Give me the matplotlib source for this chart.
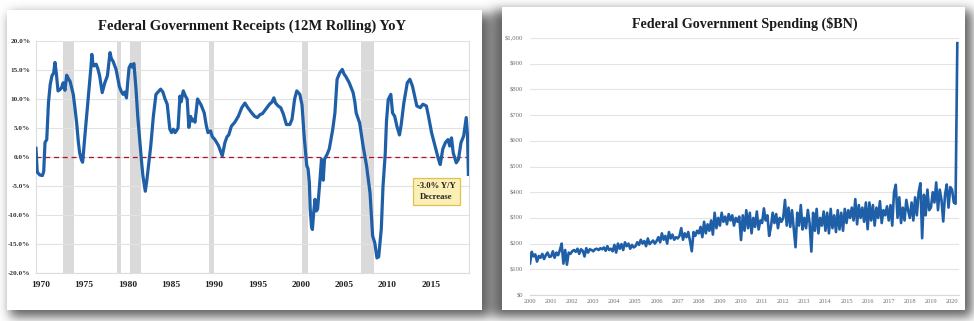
import numpy as np
import matplotlib
matplotlib.use("Agg")
import matplotlib.pyplot as plt

# ---------------- data ----------------
# Federal receipts, 12-month rolling, year-over-year change (%)
receipt_years = [
    1969.46, 1969.6, 1969.9, 1970.2, 1970.35, 1970.5, 1970.7, 1970.9, 1971.1, 1971.3,
    1971.5, 1971.65, 1971.8, 1972.0, 1972.2, 1972.4, 1972.6, 1972.8, 1973.0, 1973.2,
    1973.4, 1973.6, 1973.76, 1973.95, 1974.15, 1974.35, 1974.5, 1974.7, 1974.84, 1975.0,
    1975.15, 1975.3, 1975.6, 1975.8, 1975.9, 1976.05, 1976.15, 1976.4, 1976.6, 1976.8,
    1977.0, 1977.1, 1977.4, 1977.7, 1977.85, 1978.0, 1978.15, 1978.35, 1978.7, 1979.07,
    1979.3, 1979.5, 1979.7, 1979.9, 1980.05, 1980.2, 1980.4, 1980.55, 1980.76, 1981.0,
    1981.2, 1981.45, 1981.65, 1981.8, 1982.07, 1982.25, 1982.4, 1982.7, 1983.0, 1983.3,
    1983.6, 1983.84, 1984.1, 1984.35, 1984.6, 1984.75, 1984.9, 1985.1, 1985.3, 1985.5,
    1985.7, 1985.85, 1986.07, 1986.2, 1986.45, 1986.7, 1986.9, 1987.1, 1987.3, 1987.5,
    1987.7, 1987.8, 1988.1, 1988.3, 1988.5, 1988.87, 1989.1, 1989.3, 1989.6, 1989.8,
    1990.1, 1990.5, 1990.95, 1991.26, 1991.5, 1991.7, 1992.0, 1992.4, 1992.8, 1993.2,
    1993.56, 1993.9, 1994.35, 1994.7, 1995.0, 1995.3, 1995.6, 1995.95, 1996.4, 1996.7,
    1996.9, 1997.1, 1997.4, 1997.7, 1998.0, 1998.35, 1998.75, 1999.0, 1999.3, 1999.55,
    1999.9, 2000.15, 2000.4, 2000.7, 2000.85, 2001.0, 2001.1, 2001.25, 2001.35, 2001.5,
    2001.65, 2001.8, 2001.95, 2002.2, 2002.4, 2002.5, 2002.6, 2002.75, 2003.06, 2003.3,
    2003.7, 2003.95, 2004.2, 2004.5, 2004.8, 2005.0, 2005.2, 2005.6, 2006.05, 2006.25,
    2006.4, 2006.8, 2007.2, 2007.6, 2008.0, 2008.3, 2008.55, 2008.8, 2009.0, 2009.3,
    2009.5, 2009.75, 2009.9, 2010.1, 2010.4, 2010.6, 2010.85, 2011.1, 2011.4, 2011.6,
    2011.9, 2012.3, 2012.6, 2012.9, 2013.4, 2013.8, 2014.1, 2014.5, 2014.75, 2015.1,
    2015.5, 2015.9, 2016.1, 2016.4, 2016.7, 2017.0, 2017.2, 2017.4, 2017.6, 2017.95,
    2018.2, 2018.5, 2018.8, 2019.1, 2019.25, 2019.35,
]
receipt_yoy = [
    1.5, -2.6, -3.1, -3.2, -2.5, 2.5, 3.0, 9.4, 12.5, 14.0,
    14.5, 16.3, 14.5, 11.4, 11.6, 11.9, 12.8, 11.5, 14.1, 13.5,
    13.0, 11.8, 10.8, 8.5, 5.9, 2.5, 0.7, -0.5, -0.9, 2.0,
    4.5, 7.0, 12.2, 15.5, 17.7, 15.8, 15.7, 16.0, 15.2, 14.0,
    12.0, 11.1, 12.8, 14.0, 16.0, 18.0, 17.0, 16.5, 15.1, 12.2,
    11.3, 10.8, 11.2, 10.2, 13.0, 15.4, 16.0, 15.5, 16.1, 11.7,
    7.0, 2.5, -1.0, -3.3, -5.9, -4.0, -2.0, 1.9, 7.0, 10.8,
    11.3, 11.7, 11.2, 10.0, 9.1, 7.0, 4.8, 4.2, 4.8, 4.2,
    4.6, 5.0, 10.5, 9.5, 11.4, 10.5, 10.0, 5.1, 7.0, 6.2,
    6.5, 6.0, 10.0, 9.5, 9.0, 7.6, 5.5, 4.2, 4.5, 3.5,
    3.0, 2.0, 0.2, 2.5, 3.5, 3.8, 5.3, 6.0, 7.0, 8.5,
    9.3, 8.5, 7.6, 7.0, 6.8, 7.3, 7.5, 8.2, 9.1, 9.5,
    10.2, 9.3, 8.8, 8.5, 7.4, 5.6, 5.6, 6.5, 10.0, 11.4,
    10.8, 9.0, 3.6, -1.5, -2.0, -4.4, -9.0, -12.0, -12.5, -9.6,
    -7.3, -9.3, -9.0, -4.4, -0.4, -2.0, -4.0, -0.4, 0.5, 1.4,
    4.8, 7.6, 13.4, 14.5, 15.1, 14.3, 13.9, 12.8, 11.1, 9.5,
    7.6, 5.9, 1.9, -1.5, -6.2, -13.6, -14.8, -17.4, -17.2, -12.4,
    -5.0, 0.4, 6.2, 9.9, 10.8, 7.6, 7.0, 5.3, 3.8, 5.6,
    9.3, 12.8, 13.4, 12.2, 8.8, 8.5, 9.1, 8.8, 7.0, 4.2,
    1.9, -0.4, -1.3, 1.4, 2.5, 3.0, 1.9, 3.3, 0.7, -1.0,
    -0.4, 2.5, 3.6, 6.8, 3.6, -3.0,
]
recession_start = [1972.54, 1978.77, 1980.30, 1989.40, 2000.10, 2006.94]
recession_end = [1973.84, 1979.23, 1981.60, 1989.98, 2000.80, 2008.47]
receipt_ticks = [1970, 1975, 1980, 1985, 1990, 1995, 2000, 2005, 2010, 2015]
receipt_pct_ticks = [-20, -15, -10, -5, 0, 5, 10, 15, 20]
latest_change = -3.0

# Federal spending per month ($BN), Jan 2000 - Apr 2020
spend_2000 = [123, 168, 150, 158, 130, 152, 145, 160, 140, 155, 165, 148]
spend_2001 = [150, 170, 145, 165, 155, 175, 200, 122, 175, 118, 165, 160]
spend_2002 = [170, 175, 168, 180, 160, 178, 172, 150, 182, 165, 178, 175]
spend_2003 = [170, 178, 180, 175, 182, 178, 185, 172, 190, 175, 180, 170]
spend_2004 = [195, 165, 200, 180, 198, 175, 205, 190, 200, 180, 195, 185]
spend_2005 = [190, 205, 195, 215, 200, 210, 190, 220, 198, 205, 212, 200]
spend_2006 = [210, 225, 205, 240, 215, 230, 200, 245, 220, 235, 215, 225]
spend_2007 = [220, 230, 260, 215, 240, 225, 245, 210, 170, 245, 230, 250]
spend_2008 = [240, 265, 225, 285, 240, 275, 250, 290, 235, 320, 260, 300]
spend_2009 = [270, 320, 285, 305, 275, 315, 290, 310, 270, 300, 285, 305]
spend_2010 = [214, 310, 250, 330, 260, 320, 240, 300, 265, 325, 255, 290]
spend_2011 = [280, 337, 290, 310, 230, 265, 320, 280, 315, 260, 300, 285]
spend_2012 = [300, 370, 270, 340, 265, 330, 260, 186, 320, 270, 350, 255]
spend_2013 = [300, 260, 331, 280, 169, 320, 250, 335, 240, 300, 270, 325]
spend_2014 = [250, 320, 240, 335, 260, 310, 245, 330, 255, 320, 250, 335]
spend_2015 = [280, 330, 300, 340, 290, 373, 275, 350, 300, 340, 285, 360]
spend_2016 = [256, 360, 290, 350, 270, 340, 300, 365, 280, 330, 310, 345]
spend_2017 = [290, 350, 270, 400, 429, 300, 380, 280, 340, 290, 370, 330]
spend_2018 = [300, 360, 290, 380, 310, 400, 435, 221, 390, 310, 410, 330]
spend_2019 = [340, 400, 360, 438, 330, 410, 370, 286, 390, 430, 340, 420]
spend_2020 = [410, 360, 355, 980]
spending = (spend_2000 + spend_2001 + spend_2002 + spend_2003 + spend_2004 +
            spend_2005 + spend_2006 + spend_2007 + spend_2008 + spend_2009 +
            spend_2010 + spend_2011 + spend_2012 + spend_2013 + spend_2014 +
            spend_2015 + spend_2016 + spend_2017 + spend_2018 + spend_2019 +
            spend_2020)
spend_first_year = 2000
spend_year_ticks = list(range(2000, 2021))
spend_dollar_ticks = list(range(0, 1001, 100))

# ---------------- styling ----------------
W, H, DPI = 974, 321, 100
BLUE = "#1f5fa8"
SERIF = ["Liberation Serif", "DejaVu Serif"]
plt.rcParams["font.family"] = SERIF

fig = plt.figure(figsize=(W / DPI, H / DPI), dpi=DPI)

# Background with two white cards casting soft drop shadows
def blur(a, sigma):
    r = int(3 * sigma)
    k = np.exp(-0.5 * (np.arange(-r, r + 1) / sigma) ** 2)
    k /= k.sum()
    a = np.apply_along_axis(lambda v: np.convolve(v, k, mode="same"), 0, a)
    a = np.apply_along_axis(lambda v: np.convolve(v, k, mode="same"), 1, a)
    return a

cards = [(7, 10, 482, 310), (502, 7, 965, 310)]
shadow = np.zeros((H, W))
shadow[14:317, 10:490] = 1.0
shadow[10:317, 493:972] = 1.0
shadow = blur(shadow, 5.5)
img = np.ones((H, W, 3)) * (1 - 0.62 * shadow)[..., None]
for x0, y0, x1, y1 in cards:
    img[y0:y1, x0:x1, :] = 1.0
bg = fig.add_axes([0, 0, 1, 1], zorder=-5)
bg.imshow(img, extent=[0, W, H, 0], aspect="auto", interpolation="bilinear")
bg.set_axis_off()


def fig_rect(x0, y0, x1, y1):
    return [x0 / W, 1 - y1 / H, (x1 - x0) / W, (y1 - y0) / H]


# ---------------- left: receipts YoY ----------------
ax1 = fig.add_axes(fig_rect(36, 41, 469, 273))
ax1.set_facecolor("white")
for s, e in zip(recession_start, recession_end):
    ax1.axvspan(s, e, color="#dadada", lw=0, zorder=1)
ax1.axhline(0, color="#b0112b", lw=0.9, ls=(0, (4, 3)), zorder=2)
ax1.plot(receipt_years, receipt_yoy, color=BLUE, lw=2.3, zorder=3,
         solid_joinstyle="round")
ax1.set_xlim(1969.46, 2019.42)
ax1.set_ylim(-20, 20)
ax1.set_yticks(receipt_pct_ticks)
ax1.set_yticklabels([f"{v:.1f}%" for v in receipt_pct_ticks],
                    fontsize=5.2, fontweight="bold", color="#333333")
ax1.set_xticks(receipt_ticks)
ax1.set_xticklabels([str(y) for y in receipt_ticks], fontsize=6.8,
                    fontweight="bold", color="#222222")
ax1.tick_params(axis="y", length=0, pad=4)
ax1.tick_params(axis="x", length=0, pad=6)
ax1.grid(axis="y", color="#e2e2e2", lw=0.8, zorder=0)
for sp in ax1.spines.values():
    sp.set_color("#dddddd")
    sp.set_linewidth(0.8)
ax1.spines["top"].set_visible(False)
ax1.set_title("Federal Government Receipts (12M Rolling) YoY", fontsize=10.5,
              fontweight="bold", color="#1a1a1a", pad=8)
ax1.text(2015.67, -5.9, f"{latest_change:.1f}% Y/Y\nDecrease", fontsize=6.2,
         fontweight="bold", color="#222222", ha="center", va="center",
         linespacing=1.5, zorder=5,
         bbox=dict(boxstyle="square,pad=0.45", fc="#fcefb6", ec="#e3c14f",
                   lw=0.9))

# ---------------- right: spending ----------------
ax2 = fig.add_axes(fig_rect(530, 38, 959, 295))
ax2.set_facecolor("white")
months = np.arange(len(spending))
spend_x = spend_first_year + months / 12.0
ax2.plot(spend_x, spending, color=BLUE, lw=1.9, zorder=3,
         solid_joinstyle="round")
ax2.set_xlim(2000, 2020.33)
ax2.set_ylim(0, 1000)
ax2.set_yticks(spend_dollar_ticks)
ax2.set_yticklabels([f"${v:,}" for v in spend_dollar_ticks], fontsize=4.8,
                    color="#707070")
ax2.set_xticks(spend_year_ticks)
ax2.set_xticklabels([str(y) for y in spend_year_ticks], fontsize=4.6,
                    color="#707070")
ax2.tick_params(axis="y", length=0, pad=5)
ax2.tick_params(axis="x", length=0, pad=3)
ax2.grid(axis="y", color="#e4e4e4", lw=0.8, zorder=0)
for sp in ["left", "right", "top"]:
    ax2.spines[sp].set_visible(False)
ax2.spines["bottom"].set_color("#d8d8d8")
ax2.spines["bottom"].set_linewidth(0.8)
ax2.set_title("Federal Government Spending ($BN)", fontsize=10.2,
              fontweight="bold", color="#1a1a1a", pad=7)

fig.savefig("out.png", dpi=DPI)
